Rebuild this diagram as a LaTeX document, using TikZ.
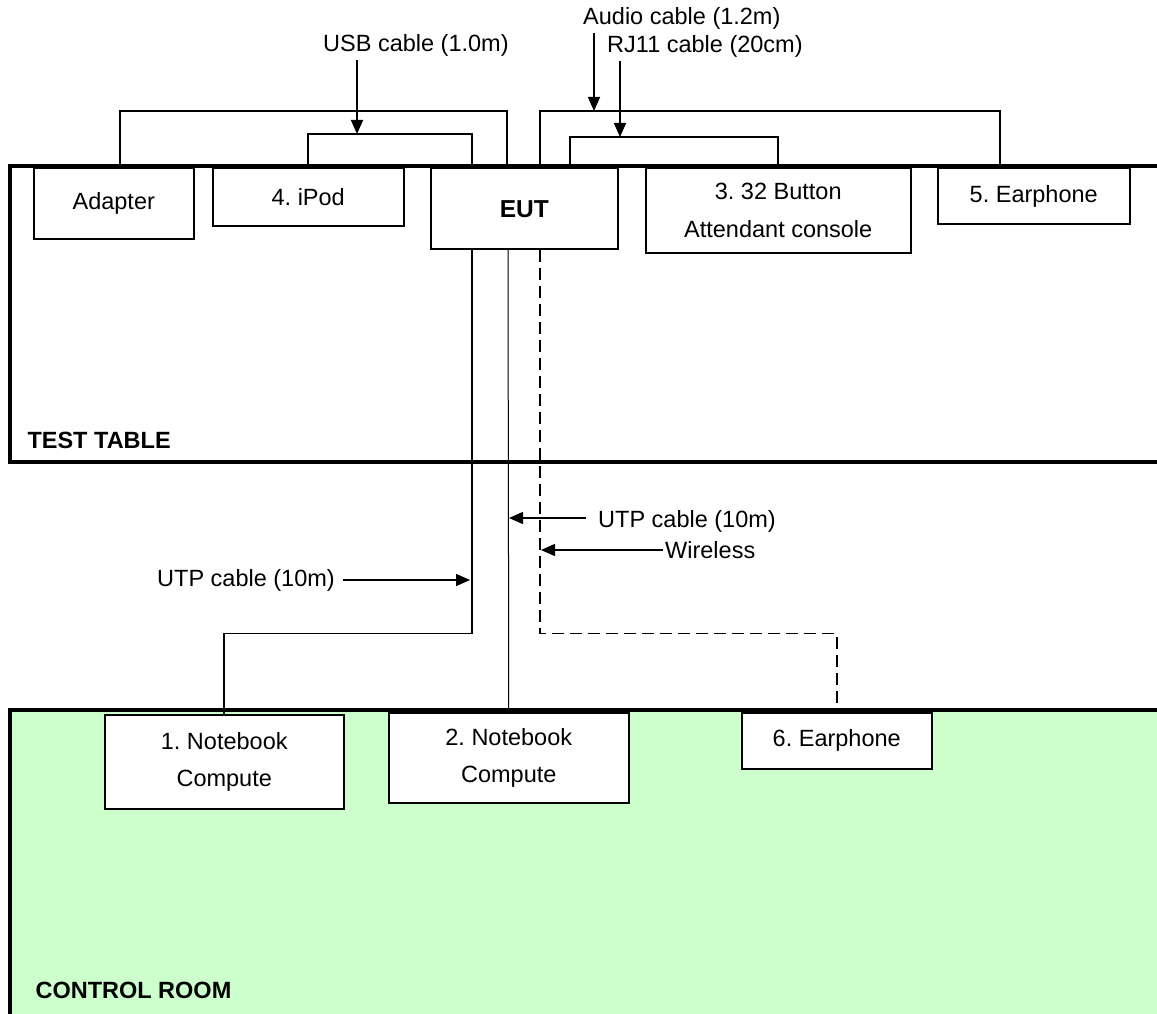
\documentclass[tikz,border=0pt]{standalone}
\usepackage{fontspec}
\setmainfont{Liberation Sans}
\usetikzlibrary{arrows.meta}
\definecolor{roomgreen}{HTML}{CCFFCC}
\frenchspacing
\tikzset{
  unitbox/.style={draw,fill=white,line width=1.5pt,align=center,anchor=north west,inner sep=0pt},
  wall/.style={line width=4.5pt},
  cable/.style={line width=1.6pt},
  pointer/.style={line width=1.6pt,-{Triangle[length=14pt,width=12pt]}},
}
\begin{document}
\begin{tikzpicture}[x=1pt,y=-1pt,font=\fontsize{23.5}{38}\selectfont]
  \useasboundingbox (0,0) rectangle (1157,1014);
  % control room floor
  \fill[roomgreen] (10,710) rectangle (1157,1014);

  % test table units
  \node[unitbox,minimum width=160,minimum height=70] (adapter) at (33,168) {Adapter};
  \node[unitbox,minimum width=191,minimum height=57] (ipod) at (212,168) {4. iPod};
  \node[unitbox,minimum width=187,minimum height=80,font=\fontsize{24.5}{38}\selectfont\bfseries] (eut) at (430,168) {EUT};
  \node[unitbox,minimum width=265,minimum height=84] (console) at (645,168) {3. 32 Button\\Attendant console};
  \node[unitbox,minimum width=192,minimum height=55] (ear5) at (937,168) {5. Earphone};

  % control room units
  \node[unitbox,minimum width=239,minimum height=94,font=\fontsize{23.5}{37}\selectfont] (nb1) at (104,714) {1. Notebook\\Compute};
  \node[unitbox,minimum width=240,minimum height=90,font=\fontsize{23.5}{37}\selectfont] (nb2) at (388,712) {2. Notebook\\Compute};
  \node[unitbox,minimum width=190,minimum height=56] (ear6) at (741,712) {6. Earphone};

  % cables on the table
  \draw[cable] ([xshift=6]adapter.north) -- ++(0,-57) -| ([xshift=77]eut.north west);
  \draw[cable] (ipod.north) -- ++(0,-34) -| ([xshift=42]eut.north west);
  \draw[cable] ([xshift=110]eut.north west) -- ++(0,-57) -| ([xshift=63]ear5.north west);
  \draw[cable] ([xshift=140]eut.north west) -- ++(0,-31) -| (console.north);

  % cables to the control room
  \draw[cable] ([xshift=42]eut.south west) -- ++(0,384) -| (nb1.north);
  \draw[line width=1pt] ([xshift=78]eut.south west) -- (nb2.north);
  \draw[cable,dash pattern=on 12pt off 6pt] ([xshift=110]eut.south west) -- ++(0,384) -| (ear6.north);

  % walls
  \draw[wall] (1157,166) -- (10,166) -- (10,462) -- (1157,462);
  \draw[wall] (1157,710) -- (10,710) -- (10,1014);
  \node[anchor=west,font=\fontsize{23.5}{26}\selectfont\bfseries] (table) at (24,440) {TEST TABLE};
  \node[anchor=west,font=\fontsize{23.5}{26}\selectfont\bfseries] (room) at (32,990) {CONTROL ROOM};

  % cable labels
  \node[anchor=west,inner sep=0pt] (usb) at (323,45) {USB cable (1.0m)};
  \node[anchor=west,inner sep=0pt] (audio) at (583,18) {Audio cable (1.2m)};
  \node[anchor=west,inner sep=0pt] (rj) at (607,46) {RJ11 cable (20cm)};
  \node[anchor=west,inner sep=0pt] (utpa) at (598,521) {UTP cable (10m)};
  \node[anchor=west,inner sep=0pt] (wless) at (665,550) {Wireless};
  \node[anchor=east,inner sep=0pt] (utpb) at (335,580) {UTP cable (10m)};

  \coordinate (usbend) at (357,134);
  \coordinate (audioend) at (594,111);
  \coordinate (rjend) at (620,137);
  \coordinate (utpaend) at (509,518);
  \coordinate (wlessend) at (541,550);
  \coordinate (utpbend) at (470,580);

  \draw[pointer] ([yshift=-4]usb.south -| usbend) -- (usbend);
  \draw[pointer] ([yshift=-4]audio.south -| audioend) -- (audioend);
  \draw[pointer] ([yshift=-4]rj.south -| rjend) -- (rjend);
  \draw[pointer] ([xshift=-12]utpa.west |- utpaend) -- (utpaend);
  \draw[pointer] ([xshift=-2]wless.west |- wlessend) -- (wlessend);
  \draw[pointer] ([xshift=8]utpb.east |- utpbend) -- (utpbend);
\end{tikzpicture}
\end{document}
